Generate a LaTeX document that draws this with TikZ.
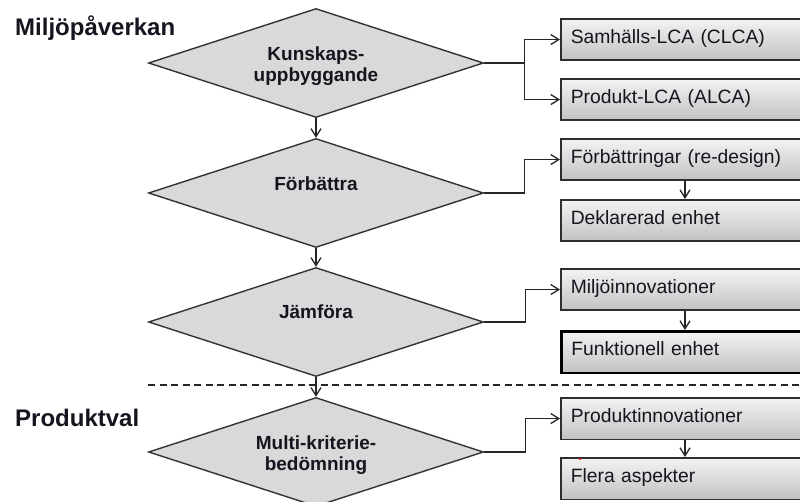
\documentclass[tikz,border=0pt]{standalone}
\usepackage{fontspec}
\setmainfont{Liberation Sans}
\usetikzlibrary{shapes.geometric,arrows.meta}

\definecolor{ink}{HTML}{15151F}
\definecolor{edge}{HTML}{333333}
\definecolor{diafill}{HTML}{D9D9D9}
\definecolor{boxtop}{HTML}{F3F3F3}
\definecolor{boxbot}{HTML}{C2C2C2}
\definecolor{boxline}{HTML}{2E2E2E}

\tikzset{
  heading/.style={anchor=base west, inner sep=0pt, text=ink,
    font=\fontsize{24}{28}\selectfont\bfseries},
  decision/.style={diamond, draw=edge, fill=diafill, line width=1.4pt,
    aspect=3.07, minimum width=335pt, minimum height=109pt, inner sep=0pt},
  dlabel/.style={align=center, inner sep=0pt, text=ink,
    font=\fontsize{19}{21.5}\selectfont\bfseries},
  result/.style={rectangle, draw=boxline, line width=1.6pt,
    top color=boxtop, bottom color=boxbot, anchor=north west,
    text width=280pt, align=left, inner xsep=10pt, inner ysep=0pt,
    minimum height=41.5pt, text height=14pt, text depth=6.5pt,
    text=ink, font=\fontsize{19.3}{22}\selectfont},
  arr/.style={draw=black!85, line width=1.3pt,
    -{Straight Barb[length=8pt,width=10pt,line width=1.3pt]}},
  split/.style={draw=black!85, dashed, dash pattern=on 7pt off 4.5pt, line width=1.2pt},
}

\begin{document}
\begin{tikzpicture}[x=1pt, y=-1pt]
  \useasboundingbox (0,0) rectangle (800,502);
  \clip (0,0) rectangle (800,502);

  % section headings
  \node[heading] (hMil) at (15,36) {Miljöpåverkan};
  \node[heading] (hProd) at (15,426) {Produktval};

  % decision column
  \node[decision] (d1) at (316,63) {};
  \node[decision] (d2) at (316,193) {};
  \node[decision] (d3) at (316,322) {};
  \node[decision] (d4) at (316,452) {};

  \node[dlabel] (t1) at (316,66) {Kunskaps-\\uppbyggande};
  \node[dlabel, anchor=base] (t2) at (316,191) {Förbättra};
  \node[dlabel, anchor=base] (t3) at (316,319) {Jämföra};
  \node[dlabel] (t4) at (316,455) {Multi-kriterie-\\bedömning};

  % divider between the two levels
  \coordinate (dashL) at (148,385);
  \coordinate (dashR) at (805,385);
  \draw[split] (dashL) -- (dashR);

  \draw[arr] (d1.south) -- (d2.north);
  \draw[arr] (d2.south) -- (d3.north);
  \draw[arr] (d3.south) -- (d4.north);

  % outcome boxes
  \node[result] (b1) at (560,18)  {Samhälls-LCA (CLCA)};
  \node[result] (b2) at (560,78)  {Produkt-LCA (ALCA)};
  \node[result] (b3) at (560,138) {Förbättringar (re-design)};
  \node[result] (b4) at (560,199) {Deklarerad enhet};
  \node[result] (b5) at (560,268) {Miljöinnovationer};
  \node[result, line width=2.6pt, draw=black] (b6) at (560,330) {Funktionell enhet};
  \node[result] (b7) at (560,397) {Produktinnovationer};
  \node[result] (b8) at (560,457) {Flera aspekter};

  % branches from the decisions to the boxes
  \draw[arr] (d1.east) -- ++(40,0) |- (b1.west);
  \draw[arr] (d1.east) -- ++(40,0) |- (b2.west);
  \draw[arr] (d2.east) -- ++(40,0) |- (b3.west);
  \draw[arr] (d3.east) -- ++(41,0) |- (b5.west);
  \draw[arr] (d4.east) -- ++(41,0) |- (b7.west);

  % links between paired boxes
  \coordinate (xc) at (685,0);
  \draw[arr] (b3.south -| xc) -- (b4.north -| xc);
  \draw[arr] (b5.south -| xc) -- (b6.north -| xc);
  \draw[arr] (b7.south -| xc) -- (b8.north -| xc);

  % small red mark above "Flera"
  \fill[red] (580,459) circle (1.2pt);
\end{tikzpicture}
\end{document}
